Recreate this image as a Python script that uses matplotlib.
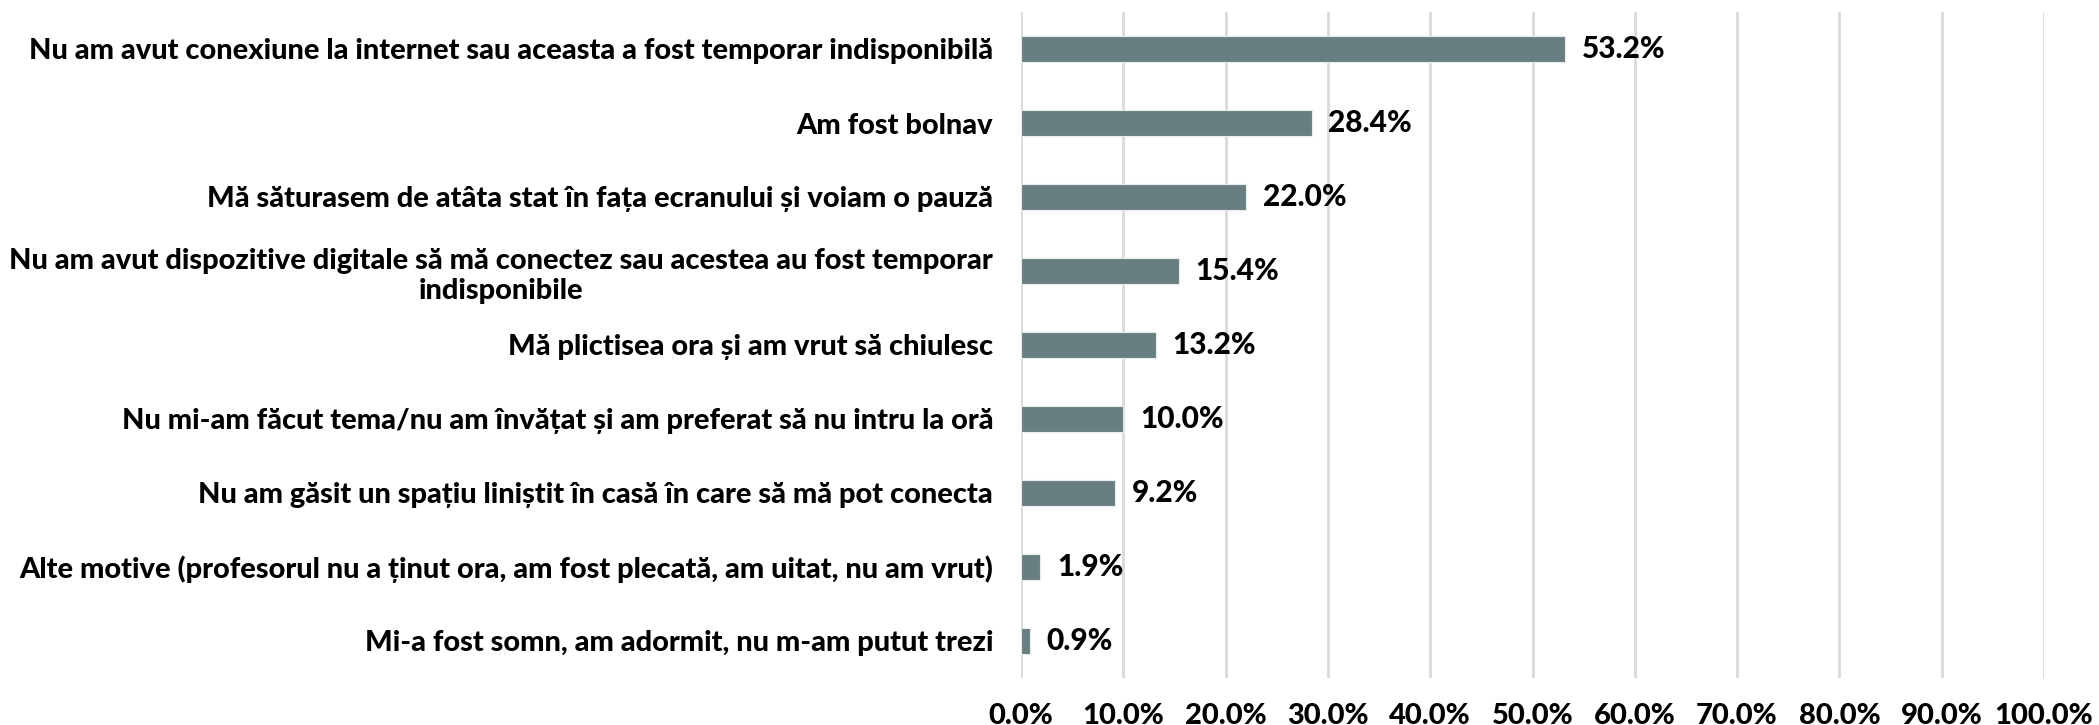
import matplotlib
matplotlib.use("Agg")
import matplotlib.pyplot as plt
from matplotlib.ticker import MultipleLocator, FuncFormatter

categories = [
    "Nu am avut conexiune la internet sau aceasta a fost temporar indisponibilă",
    "Am fost bolnav",
    "Mă săturasem de atâta stat în fața ecranului și voiam o pauză",
    "Nu am avut dispozitive digitale să mă conectez sau acestea au fost temporar\nindisponibile",
    "Mă plictisea ora și am vrut să chiulesc",
    "Nu mi-am făcut tema/nu am învățat și am preferat să nu intru la oră",
    "Nu am găsit un spațiu liniștit în casă în care să mă pot conecta",
    "Alte motive (profesorul nu a ținut ora, am fost plecată, am uitat, nu am vrut)",
    "Mi-a fost somn, am adormit, nu m-am putut trezi",
]
values = [53.2, 28.4, 22.0, 15.4, 13.2, 10.0, 9.2, 1.9, 0.9]

plt.rcParams['font.family'] = ['Lato', 'DejaVu Sans']
plt.rcParams['font.weight'] = 900

fig = plt.figure(figsize=(20.99, 7.25), dpi=100)
ax = fig.add_axes([1021/2099, 1 - 678/725, (2044-1021)/2099, (678-12)/725])

ypos = list(range(len(categories)))
bars = ax.barh(ypos, values, height=0.35, color='#687E80', edgecolor='#E8ECEC', linewidth=0.8, zorder=3)
ax.set_ylim(len(categories) - 0.5, -0.5)
ax.set_xlim(0, 100)
ax.set_yticks(ypos)
ax.set_yticklabels(categories, fontsize=20.9, fontweight=900, ha='right', multialignment='center')
ax.xaxis.set_major_locator(MultipleLocator(10))
ax.xaxis.set_major_formatter(FuncFormatter(lambda v, p: f"{v:.1f}%"))
ax.tick_params(axis='x', length=0, pad=18, labelsize=21)
ax.tick_params(axis='y', length=0, pad=20)
ax.grid(axis='x', color='#D9D9D9', linewidth=2, zorder=0)
for s in ax.spines.values():
    s.set_visible(False)

ax.bar_label(bars, labels=[f"{v:.1f}%" for v in values], padding=12, fontsize=21.5, fontweight=900, color='black')

fig.savefig("out.png", dpi=100, facecolor='white')
